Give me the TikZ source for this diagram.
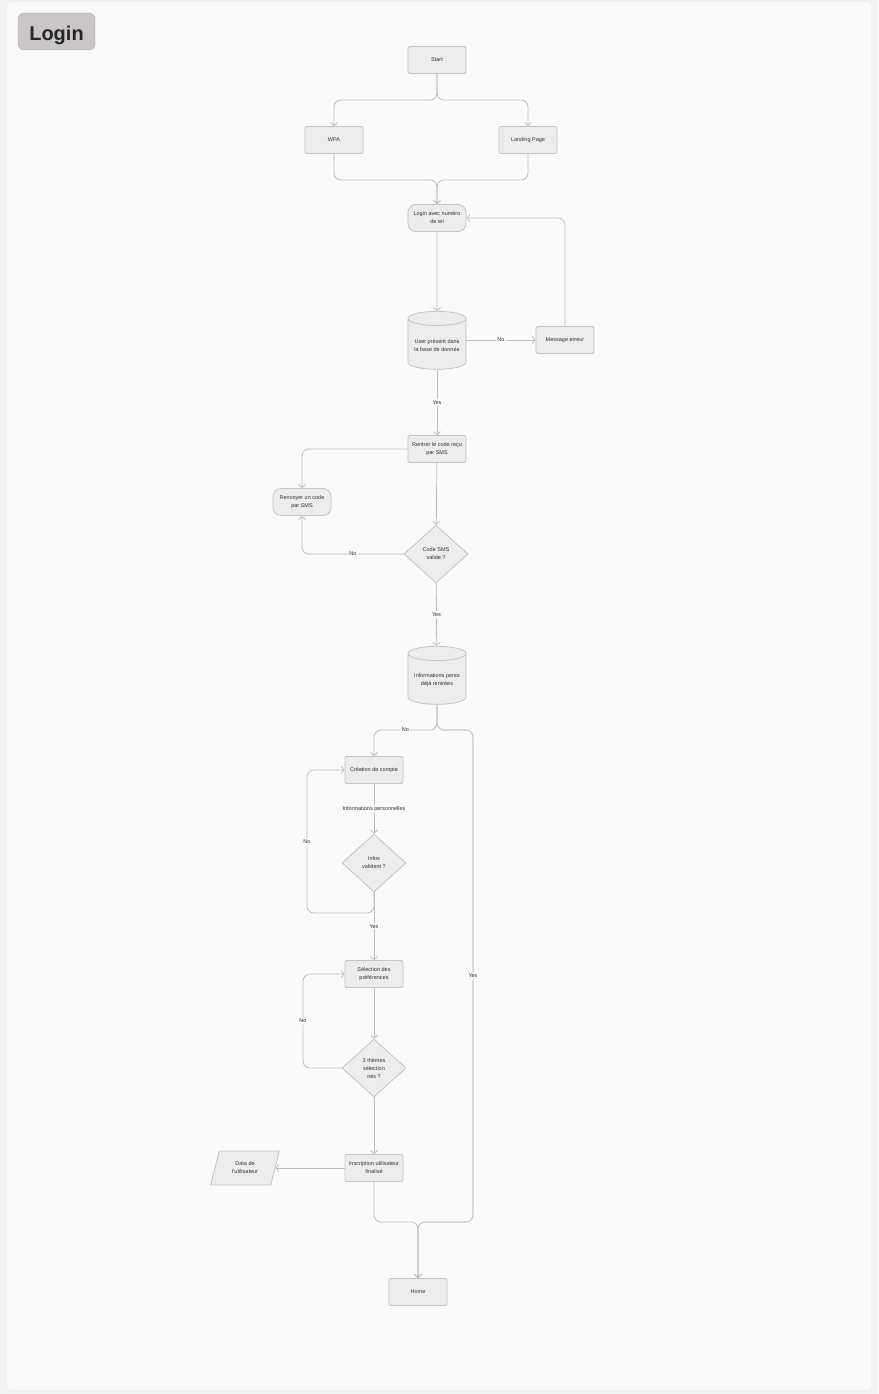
\documentclass[tikz,border=0pt]{standalone}
\usepackage{fontspec}
\setmainfont{Liberation Sans}
\usetikzlibrary{arrows.meta, shapes.geometric, calc}
\definecolor{pagebg}{HTML}{F1F2F2}
\definecolor{panelbg}{HTML}{FAFAFA}
\definecolor{boxfill}{HTML}{ECECEC}
\definecolor{boxline}{HTML}{C4C4C4}
\definecolor{lineclr}{HTML}{BDBDBD}
\definecolor{txtclr}{HTML}{333333}
\definecolor{tagfill}{HTML}{C9C6C5}
\definecolor{tagline}{HTML}{ADAAA9}
\tikzset{
    % Title tag
    tagbox/.style={rectangle, rounded corners=6pt, draw=tagline, fill=tagfill,
                minimum width=77pt, minimum height=37pt, align=center,
                text height=20pt, text depth=1pt,
                font=\fontsize{20}{24}\selectfont\bfseries, text=black!85},
    % Flow nodes
    procbox/.style={rectangle, rounded corners=1.5pt, draw=boxline, fill=boxfill,
                line width=0.8pt, minimum width=58pt, minimum height=27pt, inner sep=1pt,
                align=center, font=\fontsize{5.5}{8}\selectfont, text=txtclr},
    pillbox/.style={procbox, rounded corners=8pt},
    dbbox/.style={cylinder, shape border rotate=90, aspect=0.3, draw=boxline, fill=boxfill,
                line width=0.8pt, minimum width=58pt, minimum height=58pt, inner sep=1pt,
                align=center, font=\fontsize{5.5}{8}\selectfont, text=txtclr},
    decbox/.style={diamond, draw=boxline, fill=boxfill, line width=0.8pt,
                minimum width=64pt, minimum height=58pt, inner sep=0pt,
                align=center, font=\fontsize{5.5}{8}\selectfont, text=txtclr},
    iobox/.style={trapezium, trapezium left angle=70, trapezium right angle=110,
                trapezium stretches=true, draw=boxline, fill=boxfill, line width=0.8pt,
                minimum width=69pt, minimum height=34pt, inner sep=0pt,
                align=center, font=\fontsize{5.5}{8}\selectfont, text=txtclr},
    % Connectors
    flow/.style={-{Straight Barb[length=3pt, width=7pt]}, draw=lineclr, line width=0.8pt,
                rounded corners=7pt},
    yesflow/.style={flow, line width=1.2pt, draw=lineclr!80},
    lbl/.style={fill=panelbg, inner sep=1.5pt, font=\fontsize{5.5}{6.5}\selectfont, text=txtclr},
}

\begin{document}
\begin{tikzpicture}[x=1pt, y=-1pt]
\useasboundingbox (0,0) rectangle (878,1394);
\fill[pagebg] (0,0) rectangle (878,1394);
\fill[panelbg, rounded corners=4pt] (7,2) rectangle (871,1390);

\node[tagbox] (title) at (56.5,31.5) {Login};

% Entry
\node[procbox] (start)   at (437,60)  {Start};
\node[procbox] (wpa)     at (334,140) {WPA};
\node[procbox] (landing) at (528,140) {Landing Page};
\node[pillbox] (login)   at (437,218) {Login avec numéro\\de tel};
\node[dbbox]   (user)    at (437,345) {User présent dans\\la base de donnée};
\node[procbox] (msg)     at (565,340) {Message erreur};

% SMS code
\node[procbox] (code)    at (437,449) {Rentrer le code reçu\\par SMS};
\node[pillbox] (resend)  at (302,502) {Renvoyer un code\\par SMS};
\node[decbox]  (codeok)  at (436,554) {Code SMS\\valide ?};
\node[dbbox]   (infos)   at (437,680) {Informations perso\\déjà rentrées};

% Sign-up
\node[procbox] (account) at (374,770)  {Création de compte};
\node[decbox]  (infosok) at (374,863)  {Infos\\valident ?};
\node[procbox] (prefs)   at (374,974)  {Sélection des\\préférences};
\node[decbox]  (themes)  at (374,1068) {3 thèmes\\sélection\\nés ?};
\node[procbox] (signup)  at (374,1168) {Inscription utilisateur\\finalisé};
\node[iobox]   (data)    at (245,1168) {Data de\\l'utilisateur};
\node[procbox] (home)    at (418,1292) {Home};

\coordinate (splitA) at (437,100);
\coordinate (mergeA) at (437,180);
\coordinate (splitB) at (437,730);
\coordinate (yesTop) at (473,730);
\coordinate (yesBot) at (473,1222);
\coordinate (mergeB) at (418,1222);
\coordinate (loopA)  at (307,913);
\coordinate (loopB)  at (303,1068);

\draw[flow] (start) -- (splitA) -| (wpa);
\draw[flow] (start) -- (splitA) -| (landing);
\draw[flow] (wpa) |- (mergeA) -- (login);
\draw[flow] (landing) |- (mergeA) -- (login);
\draw[flow] (login) -- (user);
\draw[flow] (user.east |- msg) -- node[lbl] {No} (msg);
\draw[flow] (msg) |- (login);
\draw[flow] (user) -- node[lbl] {Yes} (code);
\draw[flow] (code) -| (resend);
\draw[flow] (code) -- (codeok);
\draw[flow] (codeok) -| node[lbl, pos=0.25] {No} (resend);
\draw[flow] (codeok) -- node[lbl] {Yes} (infos);

\draw[flow] (infos) -- (splitB) -| node[lbl, pos=0.25] {No} (account);
\draw[yesflow] (infos) -- (splitB) -- (yesTop) -- node[lbl] {Yes} (yesBot) -- (mergeB) -- (home);
\draw[flow] (account) -- node[lbl] {Informations personnelles} (infosok);
\draw[flow] (infosok) |- (loopA) |- node[lbl, pos=0.25] {No} (account);
\draw[flow] (infosok) -- node[lbl] {Yes} (prefs);
\draw[flow] (prefs) -- (themes);
\draw[flow] (themes) -- (loopB) |- node[lbl, pos=0.25] {No} (prefs);
\draw[flow] (themes) -- (signup);
\draw[flow] (signup) -- (data);
\draw[flow] (signup) |- (mergeB) -- (home);
\end{tikzpicture}
\end{document}
